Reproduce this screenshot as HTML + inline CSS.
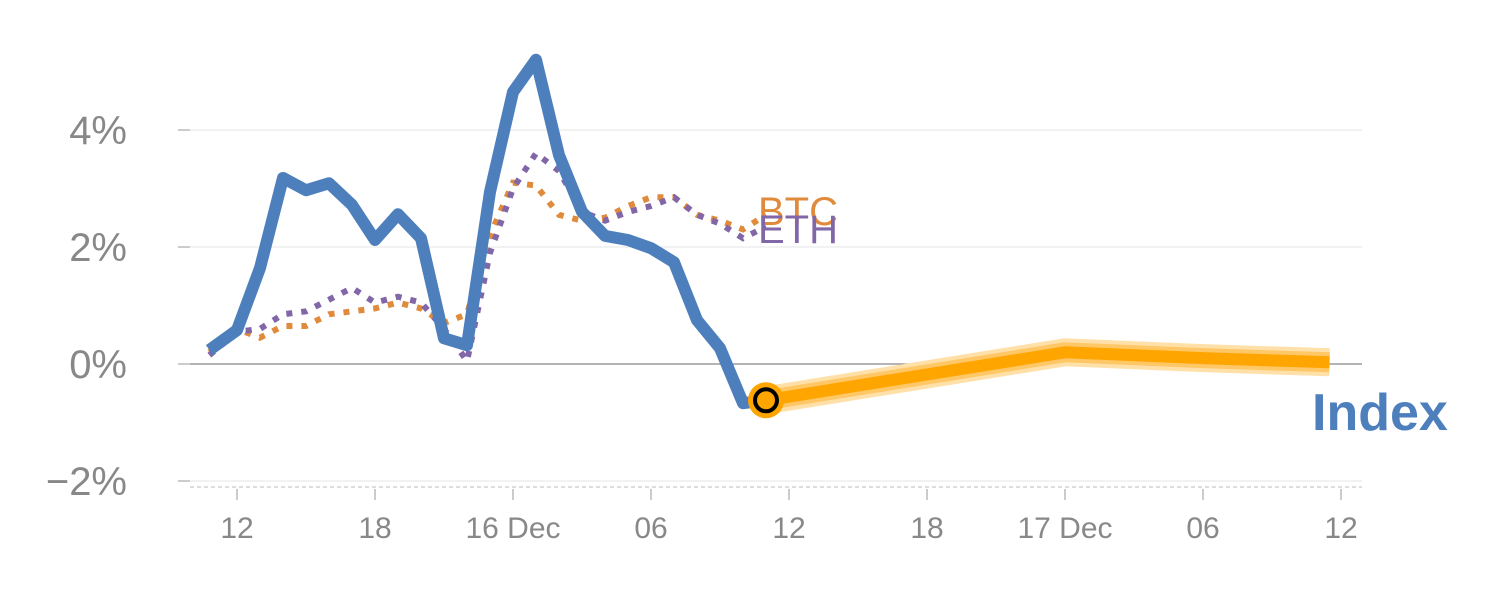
<!DOCTYPE html>
<html><head><meta charset="utf-8"><style>
body{margin:0;background:#fff;}
svg{display:block;font-family:"Liberation Sans",Arial,sans-serif;}
</style></head><body>
<svg id="chart" width="1500" height="600" viewBox="0 0 1500 600"></svg>
<script>
const hoursIdx=[10.8,12,13,14,15,16,17,18,19,20,21,22,23,24,25,26,27,28,29,30,31,32,33,34,35];
const indexVals=[0.24,0.58,1.64,3.18,2.97,3.09,2.72,2.12,2.56,2.15,0.44,0.32,2.94,4.65,5.2,3.57,2.6,2.19,2.12,1.98,1.74,0.75,0.27,-0.67,-0.62];
const btcVals=[0.2,0.6,0.45,0.65,0.65,0.85,0.9,0.95,1.05,0.95,0.7,0.85,2.2,3.1,3.05,2.55,2.45,2.5,2.7,2.85,2.85,2.55,2.45,2.3,2.55];
const ethVals=[0.15,0.55,0.6,0.85,0.9,1.1,1.3,1.05,1.15,1.05,0.6,0.05,1.9,3.0,3.6,3.3,2.6,2.45,2.6,2.7,2.85,2.55,2.4,2.15,2.35];
const fcHours=[35,48,54,59.5];
const fcVals=[-0.62,0.2,0.1,0.03];
const yTicks=[4,2,0,-2];
const yTickLabels=["4%","2%","0%","\u22122%"];
const xTicks=[12,18,24,30,36,42,48,54,60];
const xTickLabels=["12","18","16 Dec","06","12","18","17 Dec","06","12"];

const NS="http://www.w3.org/2000/svg";
const svg=document.getElementById('chart');
const x=h=>237+(h-12)*23;
const y=v=>364-v*58.5;
function el(tag,attrs,parent){const e=document.createElementNS(NS,tag);for(const k in attrs)e.setAttribute(k,attrs[k]);(parent||svg).appendChild(e);return e;}
function pts(hs,vs){return hs.map((h,i)=>x(h)+','+y(vs[i])).join(' ');}

yTicks.forEach((t,i)=>{
  const g=el('line',{x1:190,x2:1362,y1:y(t),y2:y(t),stroke:t===0?'#888':'#e6e6e6','stroke-width':t===0?1.2:1});
  
  
  const tk=el('line',{x1:178,x2:190,y1:y(t),y2:y(t),stroke:'#999','stroke-width':1});
  
  
  const tx=el('text',{x:127,y:y(t)+14,'text-anchor':'end','font-size':40,fill:'#888'});
  tx.textContent=yTickLabels[i];
  
  
});
const base=el('line',{x1:190,x2:1362,y1:487,y2:487,stroke:'#ddd','stroke-width':2,'stroke-dasharray':'4,3'});


xTicks.forEach((h,i)=>{
  const tk=el('line',{x1:x(h),x2:x(h),y1:489,y2:500,stroke:'#999','stroke-width':1});
  
  
  const tx=el('text',{x:x(h),y:538,'text-anchor':'middle','font-size':30,fill:'#888'});
  tx.textContent=xTickLabels[i];
  
  
});

const btc=el('polyline',{points:pts(hoursIdx,btcVals),fill:'none',stroke:'#e08a3c','stroke-width':6,'stroke-dasharray':'6,9'});


const eth=el('polyline',{points:pts(hoursIdx,ethVals),fill:'none',stroke:'#8166a8','stroke-width':6,'stroke-dasharray':'6,9'});


const idx=el('polyline',{points:pts(hoursIdx,indexVals),fill:'none',stroke:'#4e7fbd','stroke-width':12,'stroke-linejoin':'round'});



[[28,'#ffe0a8'],[20,'#ffc766'],[12,'#ffa500']].forEach(([w,c])=>{
  const f=el('polyline',{points:pts(fcHours,fcVals),fill:'none',stroke:c,'stroke-width':w});
  
  
});
const ring=el('circle',{cx:x(fcHours[0]),cy:y(fcVals[0]),r:18,fill:'#ffa500'});


const dot=el('circle',{cx:x(fcHours[0]),cy:y(fcVals[0]),r:11,fill:'#ffa500',stroke:'#000','stroke-width':4});



const lb=el('text',{x:758,y:225,'font-size':40,fill:'#e08a3c'});lb.textContent='BTC';


const le=el('text',{x:758,y:243,'font-size':40,fill:'#8166a8'});le.textContent='ETH';


const li=el('text',{x:1312,y:430,'font-size':52,'font-weight':'bold',fill:'#4e7fbd'});li.textContent='Index';


</script>
</body></html>
